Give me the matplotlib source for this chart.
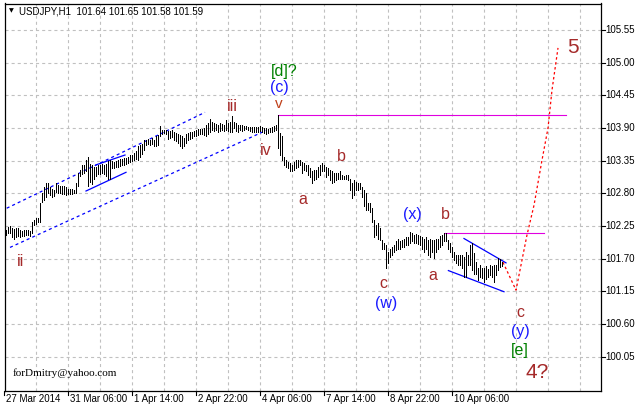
import matplotlib
matplotlib.use('Agg')
import matplotlib.pyplot as plt
from matplotlib.transforms import blended_transform_factory

plt.rcParams['lines.scale_dashes'] = False

# ---------------- data (H1 bars, bar index 0 = 27 Mar 2014 22:00) ----------------
highs = [
    102.18, 102.19, 102.23, 102.25, 102.22, 102.20, 102.21, 102.21, 102.19, 102.17,
    102.18, 102.19, 102.18, 102.17, 102.32, 102.36, 102.38, 102.38, 102.63, 102.81,
    102.91, 102.97, 102.98, 102.90, 102.87, 102.85, 102.97, 102.94, 102.92, 102.92,
    102.92, 102.91, 102.87, 102.87, 102.87, 102.86, 102.97, 103.15, 103.19, 103.28,
    103.28, 103.36, 103.42, 103.30, 103.28, 103.25, 103.25, 103.27, 103.28, 103.30,
    103.28, 103.30, 103.35, 103.36, 103.34, 103.33, 103.35, 103.36, 103.38, 103.38,
    103.39, 103.40, 103.42, 103.44, 103.45, 103.48, 103.52, 103.59, 103.61, 103.64,
    103.70, 103.70, 103.71, 103.70, 103.73, 103.70, 103.76, 103.78, 103.93, 103.87,
    103.87, 103.86, 103.85, 103.85, 103.86, 103.84, 103.82, 103.80, 103.78, 103.76,
    103.74, 103.80, 103.82, 103.83, 103.84, 103.85, 103.86, 103.88, 103.89, 103.88,
    103.90, 103.95, 103.98, 104.05, 104.00, 103.98, 103.97, 103.96, 103.98, 103.97,
    103.96, 104.04, 103.98, 104.00, 104.11, 104.01, 103.98, 103.95, 103.96, 103.95,
    103.94, 103.94, 103.92, 103.92, 103.91, 103.91, 103.92, 103.91, 103.93, 103.92,
    103.90, 103.90, 103.89, 103.90, 103.92, 103.93, 103.95, 104.12, 103.81, 103.76,
    103.42, 103.36, 103.33, 103.31, 103.28, 103.33, 103.36, 103.37, 103.36, 103.33,
    103.31, 103.28, 103.28, 103.22, 103.17, 103.19, 103.20, 103.25, 103.28, 103.31,
    103.28, 103.25, 103.22, 103.19, 103.17, 103.14, 103.14, 103.15, 103.17, 103.11,
    103.09, 103.11, 103.11, 103.05, 102.97, 103.02, 103.00, 102.98, 102.97, 102.91,
    102.86, 102.80, 102.63, 102.63, 102.55, 102.35, 102.27, 102.30, 102.21, 102.01,
    101.96, 101.93, 101.82, 101.87, 101.90, 101.93, 101.99, 102.03, 101.99, 102.01,
    102.04, 102.07, 102.07, 102.15, 102.13, 102.10, 102.12, 102.10, 102.09, 102.07,
    102.04, 102.07, 102.02, 102.04, 102.02, 102.02, 102.03, 102.04, 102.09, 102.10,
    102.13, 102.13, 102.02, 101.96, 101.90, 101.82, 101.77, 101.76, 101.76, 101.76,
    101.73, 101.82, 101.76, 101.93, 101.96, 101.79, 101.65, 101.55, 101.59, 101.54,
    101.54, 101.57, 101.53, 101.59, 101.57, 101.59, 101.59, 101.71, 101.70, 101.65,
]
lows = [
    102.08, 102.10, 102.13, 102.14, 102.06, 102.03, 102.07, 102.08, 102.07, 102.08,
    102.09, 102.10, 102.10, 102.08, 102.13, 102.27, 102.28, 102.31, 102.32, 102.66,
    102.69, 102.74, 102.81, 102.77, 102.74, 102.76, 102.83, 102.80, 102.81, 102.79,
    102.79, 102.77, 102.79, 102.79, 102.79, 102.80, 102.80, 102.92, 103.09, 103.13,
    103.14, 103.17, 102.93, 103.00, 102.95, 103.05, 103.10, 103.12, 103.12, 103.15,
    103.12, 103.10, 103.05, 103.05, 103.22, 103.22, 103.24, 103.25, 103.26, 103.27,
    103.28, 103.30, 103.31, 103.33, 103.35, 103.36, 103.38, 103.36, 103.42, 103.47,
    103.53, 103.62, 103.64, 103.62, 103.64, 103.60, 103.59, 103.62, 103.76, 103.80,
    103.82, 103.80, 103.72, 103.73, 103.75, 103.70, 103.68, 103.65, 103.60, 103.56,
    103.60, 103.65, 103.70, 103.72, 103.74, 103.76, 103.77, 103.78, 103.80, 103.80,
    103.79, 103.76, 103.80, 103.84, 103.86, 103.85, 103.86, 103.84, 103.85, 103.86,
    103.85, 103.87, 103.85, 103.84, 103.84, 103.90, 103.85, 103.84, 103.86, 103.85,
    103.87, 103.88, 103.87, 103.85, 103.84, 103.84, 103.84, 103.83, 103.85, 103.84,
    103.82, 103.80, 103.81, 103.83, 103.84, 103.85, 103.86, 103.56, 103.45, 103.37,
    103.28, 103.25, 103.22, 103.18, 103.17, 103.19, 103.22, 103.25, 103.28, 103.15,
    103.19, 103.18, 103.11, 103.08, 102.98, 103.03, 103.05, 103.08, 103.11, 103.17,
    103.18, 103.08, 103.11, 103.03, 102.98, 102.99, 103.03, 103.05, 103.04, 103.04,
    103.04, 103.04, 103.03, 102.86, 102.73, 102.77, 102.86, 102.86, 102.88, 102.74,
    102.58, 102.52, 102.52, 102.49, 102.32, 102.07, 102.10, 102.04, 102.01, 101.87,
    101.86, 101.54, 101.62, 101.73, 101.76, 101.82, 101.85, 101.86, 101.86, 101.89,
    101.90, 101.93, 101.93, 101.96, 101.99, 101.96, 101.97, 101.95, 101.93, 101.87,
    101.82, 101.87, 101.76, 101.73, 101.82, 101.71, 101.82, 101.87, 101.90, 101.93,
    101.99, 101.99, 101.87, 101.82, 101.73, 101.68, 101.62, 101.59, 101.59, 101.54,
    101.40, 101.40, 101.59, 101.59, 101.51, 101.45, 101.45, 101.34, 101.40, 101.37,
    101.31, 101.36, 101.40, 101.43, 101.40, 101.31, 101.43, 101.51, 101.56, 101.58,
]

x_tick_bars = [0, 32, 64, 96, 128, 160, 192, 224]
x_tick_labels = ['27 Mar 2014', '31 Mar 06:00', '1 Apr 14:00', '2 Apr 22:00',
                 '4 Apr 06:00', '7 Apr 14:00', '8 Apr 22:00', '10 Apr 06:00']
y_ticks = [100.05, 100.60, 101.15, 101.70, 102.25, 102.80, 103.35, 103.90,
           104.45, 105.00, 105.55]

# trend-line objects (bar index, price)
chan_upper_x, chan_upper_y = [1.35, 100.5], [102.55, 104.165]
chan_lower_x, chan_lower_y = [3, 131], [101.89, 103.86]
small_lower_x, small_lower_y = [41, 61], [102.84, 103.155]
small_upper_x, small_upper_y = [46, 60.5], [103.28, 103.446]
wedge_upper_x, wedge_upper_y = [230, 251], [102.04, 101.63]
wedge_lower_x, wedge_lower_y = [222.2, 250], [101.50, 101.144]
level1_x, level1_y = [137, 281], [104.12, 104.12]
level2_x, level2_y = [220.5, 270], [102.13, 102.13]
proj_x = [249.5, 256, 261.5, 265, 269, 272, 274, 277]
proj_y = [101.64, 101.17, 102.10, 102.60, 103.36, 103.90, 104.54, 105.25]

BROWN, BLUE, GREEN = '#a52a2a', '#1a1aff', '#008000'
wave_labels = [
    ('ii', 8, 101.66, BROWN, 11.5), ('iii', 114, 104.255, BROWN, 11.5),
    ('iv', 131, 103.53, BROWN, 11.5), ('v', 137.5, 104.31, '#c0401a', 11),
    ('(c)', 137.5, 104.59, BLUE, 11.5), ('[d]?', 140, 104.86, GREEN, 11.5),
    ('a', 149.25, 102.705, BROWN, 11.5), ('b', 168.5, 103.42, BROWN, 11.5),
    ('c', 189.5, 101.29, BROWN, 11.5), ('(w)', 191, 100.94, BLUE, 11.5),
    ('(x)', 204, 102.45, BLUE, 11.5), ('b', 220.5, 102.45, BROWN, 11.5),
    ('a', 214.5, 101.41, BROWN, 11.5), ('c', 258, 100.80, BROWN, 11.5),
    ('(y)', 258, 100.48, BLUE, 11.5), ('[e]', 258, 100.16, GREEN, 11.5),
    ('4?', 266.5, 99.79, BROWN, 15), ('5', 284.5, 105.26, BROWN, 15),
]

# ---------------- figure ----------------
W, H = 638, 405
fig = plt.figure(figsize=(W / 100, H / 100), dpi=100)
fig.patch.set_facecolor('white')
left_px, right_px, top_px, bot_px = 5, 601, 3.5, 391
ax = fig.add_axes([left_px / W, 1 - bot_px / H, (right_px - left_px) / W,
                   (bot_px - top_px) / H])
ax.set_xlim(0.5, 298.5)
ax.set_ylim(99.472, 105.998)

# grid
grid_kw = dict(color='#c0c0c0', lw=0.8, ls=(0, (2.2, 2.2)), zorder=0)
for yv in y_ticks:
    ax.axhline(yv, **grid_kw)
for xv in range(16, 299, 16):
    ax.axvline(xv, **grid_kw)

# bars
idx = list(range(len(highs)))
ax.vlines(idx, lows, highs, color='black', lw=0.5, antialiased=False, zorder=3)

# lines
dot = (0, (2.2, 2.2))
ax.plot(chan_upper_x, chan_upper_y, color='#0000ff', lw=0.9, ls=dot, zorder=2)
ax.plot(chan_lower_x, chan_lower_y, color='#0000ff', lw=0.9, ls=dot, zorder=2)
ax.plot(small_lower_x, small_lower_y, color='#0000ff', lw=0.9, zorder=2)
ax.plot(small_upper_x, small_upper_y, color='#0000ff', lw=0.9, zorder=2)
ax.plot(wedge_upper_x, wedge_upper_y, color='#0000ff', lw=0.9, zorder=2)
ax.plot(wedge_lower_x, wedge_lower_y, color='#0000ff', lw=0.9, zorder=2)
ax.plot(level1_x, level1_y, color='#e000e0', lw=0.8, zorder=2)
ax.plot(level2_x, level2_y, color='#e000e0', lw=0.8, zorder=2)
ax.plot(proj_x, proj_y, color='#ff0000', lw=0.9, ls=(0, (1.8, 1.8)), zorder=2)

for txt, xi, yi, col, sz in wave_labels:
    ax.text(xi, yi, txt, color=col, fontsize=sz, family='Liberation Sans',
            ha='center', va='center', zorder=5, clip_on=False)

# axes frame & ticks
for s in ax.spines.values():
    s.set_color('black')
    s.set_linewidth(0.9)
ax.set_xticks([])
ax.set_yticks([])

tr_x = blended_transform_factory(ax.transData, ax.transAxes)
for b, lab in zip(x_tick_bars, x_tick_labels):
    ax.plot([b, b], [0, -0.011], color='black', lw=0.8, transform=tr_x, clip_on=False)
    ax.annotate(lab, xy=(b, 0), xycoords=tr_x, xytext=(1.3, -5.6),
                textcoords='offset points', ha='left', va='center',
                fontsize=7, family='Liberation Sans', annotation_clip=False)

tr_y = blended_transform_factory(ax.transAxes, ax.transData)
for yv in y_ticks:
    ax.plot([1, 1.006], [yv, yv], color='black', lw=0.8, transform=tr_y, clip_on=False)
    ax.annotate(f'{yv:.2f}', xy=(1, yv), xycoords=tr_y, xytext=(3.2, 0),
                textcoords='offset points', ha='left', va='center',
                fontsize=7, family='Liberation Sans', annotation_clip=False)

# header and watermark
fig.text(9 / W, 1 - 11 / H, '\u25BC', fontsize=4.5, family='DejaVu Sans',
         va='center', ha='left')
fig.text(19 / W, 1 - 11 / H, 'USDJPY,H1  101.64 101.65 101.58 101.59', fontsize=7,
         family='Liberation Sans', va='center', ha='left')
fig.text(13 / W, 1 - 373 / H, 'forDmitry@yahoo.com', fontsize=8,
         family='Liberation Serif', va='center', ha='left')

fig.savefig('out.png', dpi=100, facecolor='white')
